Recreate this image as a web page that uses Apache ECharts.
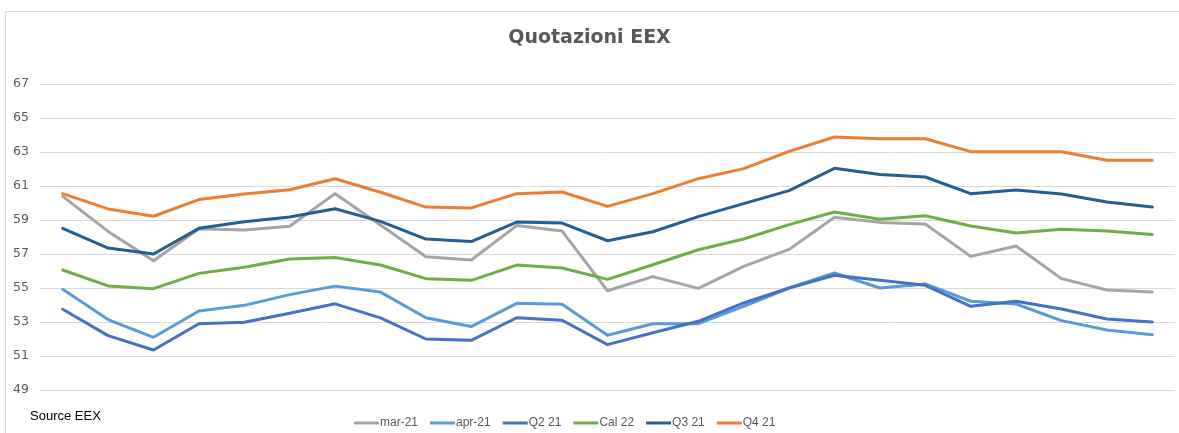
<!DOCTYPE html>
<html>
<head>
<meta charset="utf-8">
<script src="https://cdn.jsdelivr.net/npm/echarts@6/dist/echarts.min.js"></script>
<style>
html,body{margin:0;padding:0;background:#fff;}
#chart{width:1179px;height:433px;}
</style>
</head>
<body>
<div id="chart"></div>
<script>
const categories = ['1','2','3','4','5','6','7','8','9','10','11','12','13','14','15','16','17','18','19','20','21','22','23','24','25'];
const yTicks = [49, 51, 53, 55, 57, 59, 61, 63, 65, 67];
const mar21 = [60.39, 58.33, 56.6, 58.49, 58.41, 58.63, 60.55, 58.7, 56.84, 56.65, 58.67, 58.35, 54.84, 55.67, 54.98, 56.27, 57.27, 59.16, 58.86, 58.76, 56.86, 57.47, 55.55, 54.88, 54.76];
const apr21 = [54.92, 53.14, 52.1, 53.65, 53.98, 54.61, 55.11, 54.76, 53.25, 52.73, 54.1, 54.04, 52.22, 52.9, 52.9, 53.92, 55.0, 55.88, 55.0, 55.24, 54.22, 54.06, 53.08, 52.53, 52.25];
const q221 = [53.75, 52.2, 51.35, 52.9, 52.98, 53.51, 54.07, 53.24, 52.0, 51.92, 53.25, 53.1, 51.67, 52.37, 53.04, 54.12, 55.0, 55.75, 55.45, 55.16, 53.92, 54.22, 53.76, 53.18, 53.0];
const cal22 = [56.06, 55.12, 54.96, 55.86, 56.22, 56.71, 56.8, 56.35, 55.55, 55.45, 56.35, 56.18, 55.51, 56.37, 57.25, 57.88, 58.73, 59.47, 59.04, 59.25, 58.65, 58.24, 58.45, 58.35, 58.14];
const q321 = [58.51, 57.35, 57.0, 58.51, 58.9, 59.18, 59.66, 58.92, 57.88, 57.73, 58.88, 58.82, 57.78, 58.31, 59.2, 59.96, 60.73, 62.04, 61.67, 61.53, 60.55, 60.76, 60.53, 60.06, 59.76];
const q421 = [60.55, 59.65, 59.22, 60.2, 60.53, 60.78, 61.43, 60.63, 59.76, 59.71, 60.55, 60.65, 59.8, 60.55, 61.43, 62.02, 63.04, 63.88, 63.78, 63.78, 63.02, 63.02, 63.02, 62.51, 62.51];

const seriesDefs = [
  {name: 'mar-21', data: mar21, color: '#A5A5A5'},
  {name: 'apr-21', data: apr21, color: '#5B9BD5'},
  {name: 'Q2 21', data: q221, color: '#4472C4'},
  {name: 'Cal 22', data: cal22, color: '#70AD47'},
  {name: 'Q3 21', data: q321, color: '#255E91'},
  {name: 'Q4 21', data: q421, color: '#ED7D31'}
];

const chart = echarts.init(document.getElementById('chart'), null, {renderer: 'canvas'});
chart.setOption({
  animation: false,
  backgroundColor: '#fff',
  title: {
    text: 'Quotazioni EEX',
    left: 'center',
    top: 24,
    textStyle: {fontFamily: 'DejaVu Sans', fontSize: 19, fontWeight: 'bold', color: '#595959'}
  },
  graphic: [
    {type: 'rect', shape: {x: 5.5, y: 11.5, width: 1200, height: 440}, style: {fill: 'none', stroke: '#D9D9D9', lineWidth: 1}, silent: true},
    {type: 'text', left: 30, top: 410, style: {text: 'Source EEX', fontFamily: 'Liberation Sans', fontSize: 13, fill: '#000'}}
  ],
  legend: {
    left: 349,
    top: 412,
    icon: 'rect',
    itemWidth: 25,
    itemHeight: 3,
    itemGap: 12,
    textStyle: {fontFamily: 'Liberation Sans', fontSize: 12, color: '#595959', padding: [0, 0, 0, -4]},
    data: seriesDefs.map(s => s.name)
  },
  grid: {left: 40, right: 4, top: 84, bottom: 43, containLabel: false},
  xAxis: {
    type: 'category',
    data: categories,
    boundaryGap: true,
    axisLine: {show: false},
    axisTick: {show: false},
    axisLabel: {show: false},
    splitLine: {show: false}
  },
  yAxis: {
    type: 'value',
    min: yTicks[0],
    max: yTicks[yTicks.length - 1],
    interval: 2,
    axisLine: {show: false},
    axisTick: {show: false},
    axisLabel: {fontFamily: 'DejaVu Sans', fontSize: 12.5, color: '#595959', margin: 11},
    splitLine: {lineStyle: {color: '#D9D9D9', width: 1}}
  },
  series: seriesDefs.map(s => ({
    name: s.name,
    type: 'line',
    data: s.data,
    symbol: 'none',
    lineStyle: {color: s.color, width: 3, cap: 'round', join: 'round'},
    itemStyle: {color: s.color}
  }))
});
</script>
</body>
</html>
